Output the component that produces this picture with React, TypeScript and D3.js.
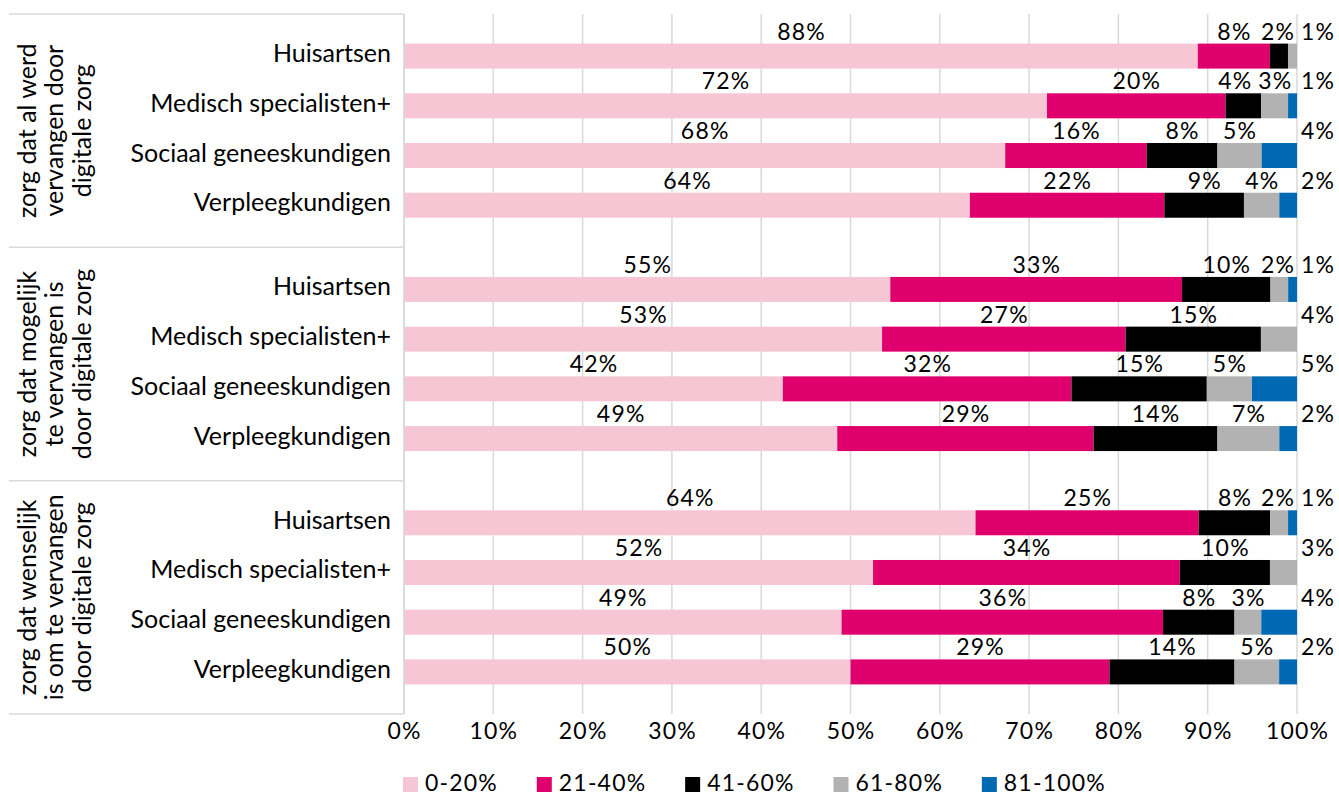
import React, { useEffect, useRef } from 'react';
import * as d3 from 'd3';

const groupLabels = [
  ['zorg dat al werd', 'vervangen door', 'digitale zorg'],
  ['zorg dat mogelijk', 'te vervangen is', 'door digitale zorg'],
  ['zorg dat wenselijk', 'is om te vervangen', 'door digitale zorg'],
];
const professions = ['Huisartsen', 'Medisch specialisten+', 'Sociaal geneeskundigen', 'Verpleegkundigen'];
const seriesNames = ['0-20%', '21-40%', '41-60%', '61-80%', '81-100%'];
const seriesColors = ['#f6c6d5', '#e0006d', '#000000', '#b2b2b2', '#0069b4'];

// per profession: [0-20, 21-40, 41-60, 61-80, 81-100] (percent)
const alVervangen = [[88, 8, 2, 1, 0], [72, 20, 4, 3, 1], [68, 16, 8, 5, 4], [64, 22, 9, 4, 2]];
const mogelijk = [[55, 33, 10, 2, 1], [53, 27, 15, 4, 0], [42, 32, 15, 5, 5], [49, 29, 14, 7, 2]];
const wenselijk = [[64, 25, 8, 2, 1], [52, 34, 10, 3, 0], [49, 36, 8, 3, 4], [50, 29, 14, 5, 2]];
const groupValues = [alVervangen, mogelijk, wenselijk];

const W = 1339;
const H = 796;
const FONT = 'Lato, "Open Sans", sans-serif';
const GRID = '#d9d9d9';
const SP = 1.2; // letter spacing for numbers
const NUM_SIZE = '23px';

const App = () => {
  const ref = useRef<SVGSVGElement>(null);

  useEffect(() => {
    const svg = d3.select(ref.current);
    svg.selectAll('*').remove();

    const x = d3.scaleLinear().domain([0, 1]).range([404, 1297]);
    const yGroup = d3.scaleBand<number>().domain([0, 1, 2]).range([14, 714]);
    const yRow = d3.scalePoint<string>().domain(professions).range([0, yGroup.bandwidth()]).padding(0.847);
    const barH = 25;
    const top = 14;
    const bottom = yGroup.range()[1];

    const numText = (sel: any) => sel
      .style('font-family', FONT)
      .style('font-size', NUM_SIZE)
      .style('letter-spacing', `${SP}px`)
      .attr('fill', '#000');

    // gridlines
    svg.append('g')
      .selectAll('line')
      .data(x.ticks(10))
      .enter()
      .append('line')
      .attr('x1', d => x(d)).attr('x2', d => x(d))
      .attr('y1', top).attr('y2', bottom)
      .attr('stroke', GRID).attr('stroke-width', 1.5);

    // category frame lines on the left
    const bounds = [0, 1, 2].map(g => yGroup(g)!).concat([bottom]);
    svg.append('g')
      .selectAll('line')
      .data(bounds)
      .enter()
      .append('line')
      .attr('x1', 9).attr('x2', x(0))
      .attr('y1', d => d).attr('y2', d => d)
      .attr('stroke', GRID).attr('stroke-width', 1.5);

    // x tick labels
    svg.append('g')
      .selectAll('text')
      .data(x.ticks(10))
      .enter()
      .append('text')
      .attr('x', d => x(d) + SP / 2)
      .attr('y', 739)
      .attr('text-anchor', 'middle')
      .call(numText)
      .text(d => d3.format('.0%')(d));

    groupValues.forEach((rows, g) => {
      const g0 = yGroup(g)!;
      const gc = g0 + yGroup.bandwidth() / 2;

      // rotated group label
      const gl = svg.append('text')
        .attr('transform', `translate(62,${gc}) rotate(-90)`)
        .attr('text-anchor', 'middle')
        .style('font-family', FONT)
        .style('font-size', '25px')
        .attr('fill', '#000');
      groupLabels[g].forEach((line, i) => {
        gl.append('tspan')
          .attr('x', 0)
          .attr('y', (i - 1) * 27.5 + 1)
          .text(line);
      });

      rows.forEach((vals, r) => {
        const cy = g0 + yRow(professions[r])!;
        const y0 = cy - barH / 2;
        const total = d3.sum(vals);
        let acc = 0;
        const segs = vals.map((v, i) => {
          const s = { i, v, a: acc / total, b: (acc + v) / total };
          acc += v;
          return s;
        });

        svg.append('text')
          .attr('x', 391)
          .attr('y', cy + 6)
          .attr('text-anchor', 'end')
          .style('font-family', FONT)
          .style('font-size', '25px')
          .attr('fill', '#000')
          .text(professions[r]);

        svg.append('g')
          .selectAll('rect')
          .data(segs.filter(s => s.v > 0))
          .enter()
          .append('rect')
          .attr('x', s => x(s.a))
          .attr('width', s => x(s.b) - x(s.a))
          .attr('y', y0)
          .attr('height', barH)
          .attr('fill', s => seriesColors[s.i]);

        // value labels above the bar, nudged left so they don't collide
        const shown = segs.filter(s => s.v > 0);
        const labels = shown.map(s => svg.append('text')
          .attr('y', y0 - 4)
          .attr('text-anchor', 'start')
          .call(numText)
          .text(`${s.v}%`));
        const widths = labels.map(t => (t.node() as SVGTextElement).getComputedTextLength() - SP);
        let nextLeft = Infinity;
        for (let k = shown.length - 1; k >= 0; k--) {
          const w = widths[k];
          let c = (x(shown[k].a) + x(shown[k].b)) / 2;
          if (k === shown.length - 1) c = x(1) + 4 + w / 2;
          else c = Math.min(c, nextLeft - 7 - w / 2);
          labels[k].attr('x', c - w / 2);
          nextLeft = c - w / 2;
        }
      });
    });

    // left axis line
    svg.append('line')
      .attr('x1', x(0)).attr('x2', x(0))
      .attr('y1', top).attr('y2', bottom)
      .attr('stroke', GRID).attr('stroke-width', 1.5);

    // legend
    let lx = 403;
    seriesNames.forEach((name, i) => {
      svg.append('rect')
        .attr('x', lx).attr('y', 777)
        .attr('width', 15).attr('height', 15)
        .attr('fill', seriesColors[i]);
      const t = svg.append('text')
        .attr('x', lx + 22)
        .attr('y', 791)
        .call(numText)
        .text(name);
      lx += 22 + (t.node() as SVGTextElement).getComputedTextLength() - SP + 40;
    });
  }, []);

  return (
    <svg ref={ref} width={W} height={H} style={{ position: 'absolute', left: 0, top: 0, background: '#fff' }} />
  );
};

export default App;
